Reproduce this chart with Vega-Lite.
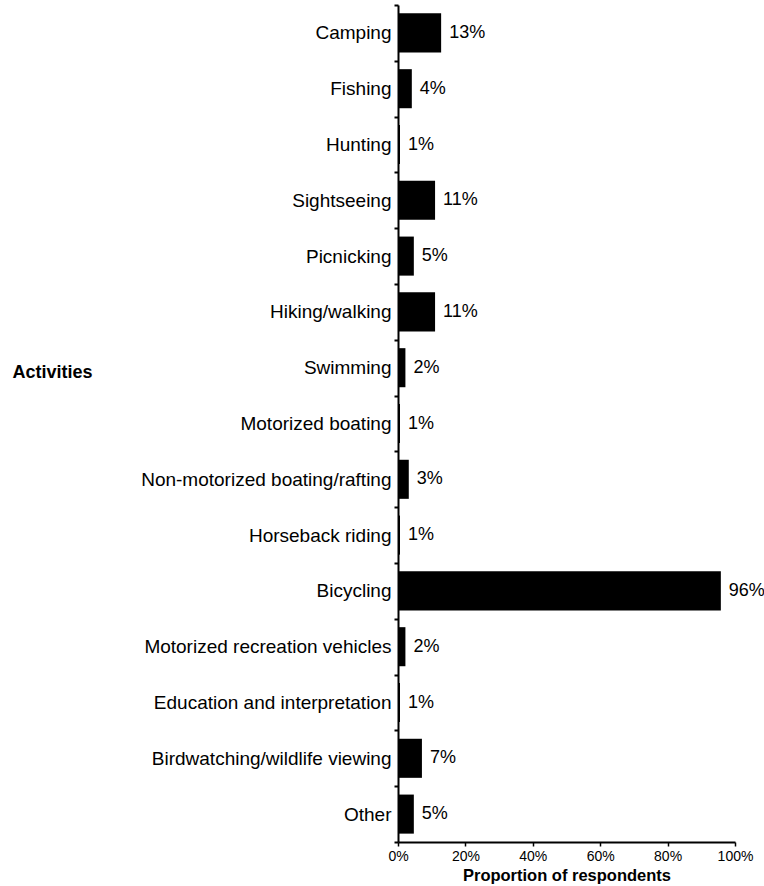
{
  "$schema": "https://vega.github.io/schema/vega-lite/v6.json",
  "autosize": {"type": "none"},
  "padding": {"left": 398, "top": 5, "right": 29, "bottom": 44},
  "width": 337,
  "height": 837,
  "background": "white",
  "config": {
    "view": {"stroke": null},
    "font": "Liberation Sans"
  },
  "data": {
    "values": [
      {"activity": "Camping", "value": 0.128, "label": "13%"},
      {"activity": "Fishing", "value": 0.041, "label": "4%"},
      {"activity": "Hunting", "value": 0.006, "label": "1%"},
      {"activity": "Sightseeing", "value": 0.11, "label": "11%"},
      {"activity": "Picnicking", "value": 0.047, "label": "5%"},
      {"activity": "Hiking/walking", "value": 0.11, "label": "11%"},
      {"activity": "Swimming", "value": 0.022, "label": "2%"},
      {"activity": "Motorized boating", "value": 0.006, "label": "1%"},
      {"activity": "Non-motorized boating/rafting", "value": 0.032, "label": "3%"},
      {"activity": "Horseback riding", "value": 0.006, "label": "1%"},
      {"activity": "Bicycling", "value": 0.958, "label": "96%"},
      {"activity": "Motorized recreation vehicles", "value": 0.022, "label": "2%"},
      {"activity": "Education and interpretation", "value": 0.006, "label": "1%"},
      {"activity": "Birdwatching/wildlife viewing", "value": 0.071, "label": "7%"},
      {"activity": "Other", "value": 0.047, "label": "5%"}
    ]
  },
  "encoding": {
    "y": {
      "field": "activity",
      "type": "nominal",
      "sort": null,
      "scale": {"paddingInner": 0, "paddingOuter": 0},
      "axis": {
        "title": "Activities",
        "titleAngle": 0,
        "titleAlign": "left",
        "titleBaseline": "middle",
        "titleX": -386,
        "titleY": 367,
        "titleFontSize": 18,
        "titleFontWeight": "bold",
        "titleColor": "black",
        "labelFontSize": 19,
        "labelColor": "black",
        "labelPadding": 3,
        "labelLimit": 400,
        "ticks": true,
        "tickBand": "extent",
        "tickSize": 4,
        "tickColor": "black",
        "tickWidth": 2,
        "domainColor": "black",
        "domainWidth": 2
      }
    },
    "x": {
      "field": "value",
      "type": "quantitative",
      "scale": {"domain": [0, 1]},
      "axis": {
        "title": "Proportion of respondents",
        "titleFontSize": 16.5,
        "titleFontWeight": "bold",
        "titleColor": "black",
        "titlePadding": 4,
        "format": ".0%",
        "values": [0, 0.2, 0.4, 0.6, 0.8, 1],
        "labelFontSize": 14,
        "labelColor": "black",
        "labelPadding": 3,
        "labelFlush": false,
        "tickSize": 4,
        "tickColor": "black",
        "tickWidth": 1.5,
        "domainColor": "black",
        "domainWidth": 2,
        "grid": false
      }
    }
  },
  "layer": [
    {
      "mark": {"type": "bar", "color": "black", "height": {"band": 0.7}}
    },
    {
      "mark": {"type": "text", "align": "left", "baseline": "middle", "dx": 8, "fontSize": 18, "color": "black"},
      "encoding": {"text": {"field": "label"}}
    }
  ]
}
